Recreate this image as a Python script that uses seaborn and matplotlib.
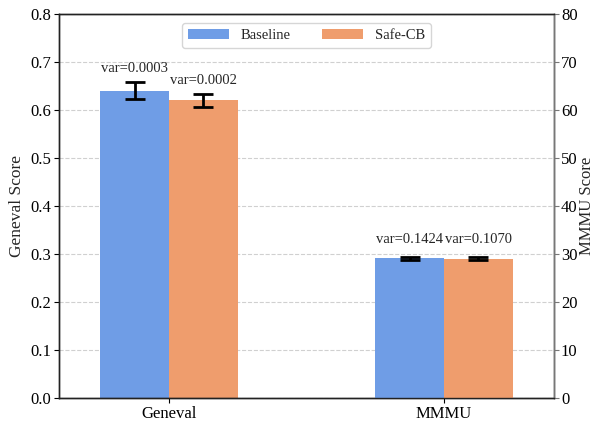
import numpy as np
import pandas as pd
import matplotlib
matplotlib.use("Agg")
import matplotlib.pyplot as plt
import seaborn as sns

# Scores per benchmark and method
benchmarks = ["Geneval", "MMMU"]
methods = ["Baseline", "Safe-CB"]
geneval_scores = [0.64, 0.62]
geneval_vars = [0.0003, 0.0002]
mmmu_scores = [29.1, 29.0]
mmmu_vars = [0.1424, 0.1070]

palette = {"Baseline": "#6f9de6", "Safe-CB": "#ef9d6d"}

sns.set_theme(style="white")
plt.rcParams["font.family"] = ["Liberation Serif", "DejaVu Serif"]
plt.rcParams["mathtext.fontset"] = "stix"

fig = plt.figure(figsize=(5.96, 4.23), dpi=100)
ax = fig.add_axes([0.099, 0.059, 0.8305, 0.908])
ax2 = ax.twinx()

df_gen = pd.DataFrame({"benchmark": "Geneval", "method": methods, "score": geneval_scores})
df_mmmu = pd.DataFrame({"benchmark": "MMMU", "method": methods, "score": mmmu_scores})

sns.barplot(data=df_gen, x="benchmark", y="score", hue="method", order=benchmarks,
            hue_order=methods, palette=palette, width=0.5, errorbar=None,
            saturation=1, linewidth=0, ax=ax, zorder=2)
sns.barplot(data=df_mmmu, x="benchmark", y="score", hue="method", order=benchmarks,
            hue_order=methods, palette=palette, width=0.5, errorbar=None,
            saturation=1, linewidth=0, ax=ax2, zorder=2)

bar_w = 0.25
offsets = [-bar_w / 2, bar_w / 2]

# Error bars (std = sqrt(var)) and variance annotations
for axis, idx, scores, variances, gap in [
    (ax, 0, geneval_scores, geneval_vars, 0.021),
    (ax2, 1, mmmu_scores, mmmu_vars, 2.9),
]:
    for off, s, v in zip(offsets, scores, variances):
        sd = np.sqrt(v)
        axis.errorbar(idx + off, s, yerr=sd, fmt="none", ecolor="black",
                      elinewidth=2, capsize=7, capthick=2, zorder=5)
        axis.text(idx + off, s + sd + gap, f"var={v:.4f}", ha="center",
                  va="baseline", fontsize=10.5, zorder=6)

ax.set_xlim(-0.4, 1.4)
ax.set_ylim(0, 0.8)
ax2.set_ylim(0, 80)
ax.set_yticks(np.arange(0, 0.81, 0.1))
ax.set_yticklabels([f"{t:.1f}" for t in np.arange(0, 0.81, 0.1)])
ax2.set_yticks(np.arange(0, 81, 10))
ax.set_xticks([0, 1])
ax.set_xticklabels(benchmarks)

ax.set_xlabel("")
ax2.set_xlabel("")
ax.set_ylabel("Geneval Score", fontsize=12.5, labelpad=4)
ax2.set_ylabel("MMMU Score", fontsize=12, labelpad=1)

ax.yaxis.grid(True, linestyle="--", color="#d0d0d0", linewidth=0.8)
ax.set_axisbelow(True)

for a in (ax, ax2):
    a.tick_params(axis="both", which="both", direction="out", length=3.5, width=0.8,
                  labelsize=12, colors="black", left=(a is ax), right=(a is ax2),
                  bottom=True, pad=2)
    for sp in a.spines.values():
        sp.set_color("#222222")
        sp.set_linewidth(1.0)
ax2.spines["right"].set_color("#777777")
ax2.tick_params(axis="y", colors="#777777", labelcolor="black", pad=1.5)

# Single legend for both axes
handles, labels = ax.get_legend_handles_labels()
if ax.get_legend():
    ax.get_legend().remove()
if ax2.get_legend():
    ax2.get_legend().remove()
ax2.legend(handles, labels, loc="upper center", ncol=2, fontsize=10.5,
           frameon=True, edgecolor="#cccccc", fancybox=True,
           handlelength=2.8, columnspacing=2.2, bbox_to_anchor=(0.5, 0.995))

fig.savefig("out.png", dpi=100)
